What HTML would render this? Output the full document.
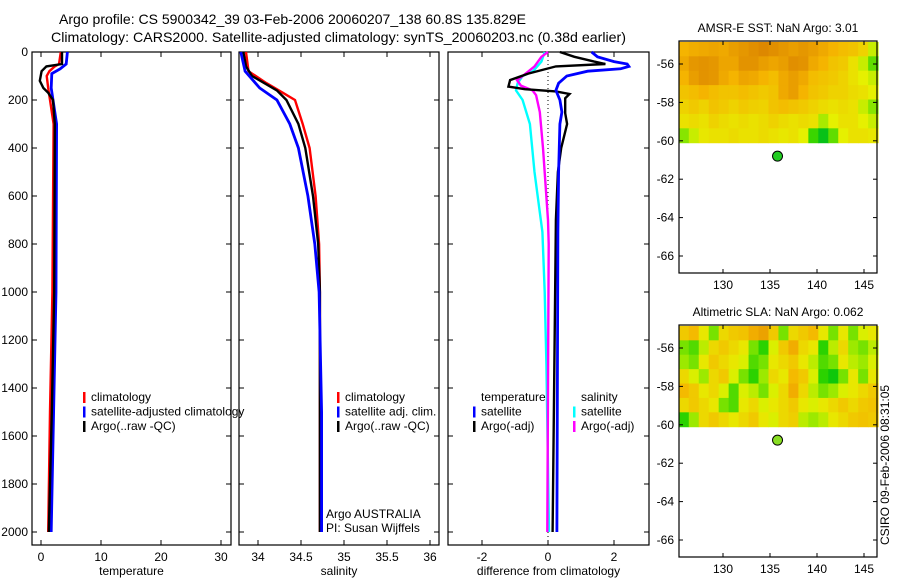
<!DOCTYPE html>
<html><head><meta charset="utf-8"><style>
body{margin:0;background:#fff;}
svg{display:block;font-family:"Liberation Sans",sans-serif;}
text{font-size:12px;fill:#000;}
</style></head><body>
<svg id="fig" width="900" height="580" viewBox="0 0 900 580" xmlns="http://www.w3.org/2000/svg">
<text x="59" y="24" textLength="467" lengthAdjust="spacingAndGlyphs" style="font-size:14px">Argo profile: CS 5900342_39 03-Feb-2006 20060207_138 60.8S 135.829E</text>
<text x="51" y="42" textLength="575" lengthAdjust="spacingAndGlyphs" style="font-size:14px">Climatology: CARS2000. Satellite-adjusted climatology: synTS_20060203.nc (0.38d earlier)</text>
<g id="g"></g>
</svg>
<script>
// ---- data ----
const tempDepth = [0,50,60,80,100,150,200,300,1000,1500,2000];
const tempClim  = [3.3,3.0,2.3,1.4,0.95,1.2,1.5,2.1,1.9,1.5,1.2];
const tempSatD  = [0,50,70,90,150,200,300,1000,1500,2000];
const tempSat   = [4.4,4.2,3.2,1.8,1.7,2.0,2.6,2.5,2.1,1.7];
const argoTD    = [0,50,60,80,120,150,170,200,300,1000,1500,2000];
const argoT     = [3.5,3.5,0.9,0.1,-0.2,0.4,1.2,2.0,2.3,2.2,1.8,1.3];
const salDepth  = [0,80,130,170,200,300,400,600,800,1000,2000];
const salClim   = [33.86,33.89,34.10,34.29,34.43,34.52,34.60,34.67,34.71,34.72,34.72];
const argoSD    = [0,60,100,160,200,300,400,600,800,1000,2000];
const argoS     = [33.83,33.86,33.93,34.22,34.33,34.47,34.55,34.64,34.70,34.72,34.72];
const salSatD   = [0,80,150,200,300,400,600,800,1000,1500,2000];
const salSat    = [33.80,33.85,34.02,34.22,34.37,34.47,34.58,34.66,34.71,34.74,34.74];
const dTSatD = [0,20,40,50,60,70,80,100,130,160,200,250,300,500,750,2000];
const dTSat  = [1.32,1.5,2.0,2.4,2.45,2.2,1.2,0.57,0.32,0.24,0.36,0.42,0.36,0.32,0.3,0.27];
const dTArgoD = [0,20,40,50,60,90,117,144,155,164,175,193,255,300,400,500,700,2000];
const dTArgo  = [0.36,0.8,1.4,1.74,0.24,-0.6,-1.15,-1.2,-0.7,0.24,0.65,0.52,0.52,0.58,0.4,0.3,0.24,0.14];
const dSArgoD = [0,20,60,100,117,140,160,180,250,400,700,800,2000];
const dSArgo  = [0,-0.2,-0.41,-0.77,-0.94,-0.82,-0.47,-0.36,-0.25,-0.15,0,0.02,-0.02];
const dSSatD = [0,40,80,100,130,160,200,300,500,750,1000,1300,2000];
const dSSat  = [-0.1,-0.2,-0.45,-0.77,-0.92,-0.97,-0.77,-0.55,-0.41,-0.17,-0.1,-0.05,0.03];
const depthTicks = [0,200,400,600,800,1000,1200,1400,1600,1800,2000];
const tempTicks = [0,10,20,30];
const salTicks = [34,34.5,35,35.5,36];
const diffTicks = [-2,0,2];
const lonTicks = [130,135,140,145];
const latTicks = [-56,-58,-60,-62,-64,-66];
const sstGrid = [
[0.75,0.78,0.8,0.82,0.8,0.85,0.88,0.92,0.95,0.92,0.88,0.85,0.88,0.85,0.8,0.75,0.72,0.7,0.65,0.5],
[0.8,0.88,0.9,0.88,0.82,0.82,0.9,0.9,0.85,0.82,0.85,0.92,0.9,0.8,0.75,0.7,0.68,0.6,0.5,0.35],
[0.75,0.85,0.9,0.88,0.8,0.75,0.82,0.8,0.75,0.72,0.8,0.85,0.8,0.72,0.7,0.68,0.65,0.6,0.55,0.5],
[0.7,0.72,0.75,0.72,0.7,0.7,0.72,0.7,0.68,0.7,0.8,0.85,0.75,0.7,0.68,0.65,0.65,0.62,0.6,0.55],
[0.65,0.68,0.65,0.7,0.68,0.65,0.68,0.66,0.65,0.7,0.72,0.7,0.68,0.65,0.62,0.6,0.62,0.6,0.5,0.4],
[0.6,0.62,0.6,0.65,0.62,0.6,0.62,0.6,0.62,0.65,0.62,0.6,0.62,0.6,0.45,0.55,0.6,0.6,0.55,0.5],
[0.4,0.5,0.58,0.6,0.6,0.62,0.6,0.6,0.62,0.6,0.58,0.6,0.55,0.3,0.1,0.35,0.55,0.6,0.6,0.58]];
const slaGrid = [
[0.6,0.65,0.5,0.3,0.55,0.6,0.62,0.7,0.75,0.6,0.3,0.55,0.6,0.65,0.5,0.3,0.5,0.3,0.45,0.5],
[0.3,0.25,0.4,0.55,0.6,0.55,0.5,0.3,0.2,0.45,0.6,0.7,0.55,0.5,0.2,0.4,0.55,0.35,0.3,0.4],
[0.35,0.3,0.5,0.6,0.55,0.5,0.45,0.25,0.3,0.5,0.55,0.6,0.5,0.4,0.25,0.3,0.5,0.4,0.35,0.45],
[0.55,0.45,0.35,0.55,0.6,0.45,0.3,0.2,0.35,0.55,0.5,0.65,0.6,0.45,0.2,0.1,0.3,0.5,0.3,0.5],
[0.65,0.6,0.5,0.55,0.45,0.25,0.45,0.4,0.3,0.45,0.55,0.7,0.55,0.4,0.3,0.35,0.45,0.5,0.55,0.6],
[0.55,0.6,0.55,0.5,0.3,0.25,0.5,0.55,0.45,0.5,0.55,0.6,0.5,0.45,0.5,0.55,0.6,0.55,0.6,0.62],
[0.2,0.35,0.55,0.6,0.55,0.5,0.55,0.6,0.5,0.45,0.55,0.58,0.4,0.35,0.4,0.5,0.55,0.6,0.62,0.6]];
const argoLon = [135.8];
const argoLat = [-60.8];

// ---- drawing ----
const NS='http://www.w3.org/2000/svg';
const G=document.getElementById('g');
function mk(tag,attrs,parent){const e=document.createElementNS(NS,tag);for(const k in attrs)e.setAttribute(k,attrs[k]);(parent||G).appendChild(e);return e;}
function txt(s,x,y,anchor,parent){const t=mk('text',{x:x,y:y,'text-anchor':anchor||'start'},parent);t.textContent=s;return t;}
const yTop=52, yBot=545;
const yD=d=>yTop+d*0.24;

function panel(name,x0,x1,xf,xticks,xlabel,showY){
  const r=mk('rect',{x:x0,y:yTop,width:x1-x0,height:yBot-yTop,fill:'none',stroke:'#000','stroke-width':1.2});
  
  
  xticks.forEach(v=>{const x=xf(v);
    mk('line',{x1:x,x2:x,y1:yBot,y2:yBot-5,stroke:'#000'});
    mk('line',{x1:x,x2:x,y1:yTop,y2:yTop+5,stroke:'#000'});
    const t=txt(String(v),x,561,'middle');
    
    
  });
  depthTicks.forEach(d=>{const y=yD(d);
    mk('line',{x1:x0,x2:x0+5,y1:y,y2:y,stroke:'#000'});
    mk('line',{x1:x1,x2:x1-5,y1:y,y2:y,stroke:'#000'});
    if(showY){const t=txt(String(d),28,y+4,'end');
      
      }
  });
  const l=txt(xlabel,(x0+x1)/2,575,'middle');
  
  
}
function line(name,ds,vs,xf,color,w){
  const p=mk('polyline',{points:ds.map((d,i)=>xf(vs[i]).toFixed(1)+','+yD(d).toFixed(1)).join(' '),fill:'none',stroke:color,'stroke-width':w||2.4});
  
  
}
function legend(items,x,y,name){
  items.forEach((it,i)=>{
    if(it[1]){const m=mk('rect',{x:x,y:y+i*14.5-9,width:2.5,height:11,fill:it[1]});
      
      }
    const t=txt(it[0],x+8,y+i*14.5);
    
    
  });
}
// Panel 1 temperature
const xT=v=>41+v*6;
panel('temperature-panel',32,231,xT,tempTicks,'temperature',true);
line('temp-climatology',tempDepth,tempClim,xT,'#f00');
line('temp-satellite-adjusted',tempSatD,tempSat,xT,'#00f',2.8);
line('temp-argo',argoTD,argoT,xT,'#000');
legend([['climatology','#f00'],['satellite-adjusted climatology','#00f'],['Argo(..raw -QC)','#000']],83,401,'temp-legend');
// Panel 2 salinity
const xS=v=>258+(v-34)*86;
panel('salinity-panel',239,439,xS,salTicks,'salinity',false);
line('sal-climatology',salDepth,salClim,xS,'#f00');
line('sal-argo',argoSD,argoS,xS,'#000');
line('sal-satellite-adjusted',salSatD,salSat,xS,'#00f',2.8);
legend([['climatology','#f00'],['satellite adj. clim.','#00f'],['Argo(..raw -QC)','#000']],337,401,'sal-legend');
const a1=txt('Argo AUSTRALIA',326,518);
const a2=txt('PI: Susan Wijffels',326,532);
// Panel 3 differences
const xDf=v=>548+v*33;
panel('difference-panel',448,649,xDf,diffTicks,'difference from climatology',false);
const zl=mk('line',{x1:xDf(0),x2:xDf(0),y1:yTop,y2:yBot,stroke:'#000','stroke-dasharray':'1,3'});

line('diff-sal-satellite',dSSatD,dSSat,xDf,'#0ff');
line('diff-sal-argo',dSArgoD,dSArgo,xDf,'#f0f');
line('diff-temp-argo',dTArgoD,dTArgo,xDf,'#000');
line('diff-temp-satellite',dTSatD,dTSat,xDf,'#00f',2.8);
legend([['temperature',null],['satellite','#00f'],['Argo(-adj)','#000']],473,401,'diff-temp-legend');
legend([['salinity',null],['satellite','#0ff'],['Argo(-adj)','#f0f']],573,401,'diff-sal-legend');

// Maps
function cmap(v){
  v=Math.max(0,Math.min(1,v));
  const stops=[[0,[0,185,40]],[0.25,[20,205,0]],[0.42,[150,232,0]],[0.55,[230,240,0]],[0.75,[245,180,0]],[1,[215,125,0]]];
  for(let i=1;i<stops.length;i++){if(v<=stops[i][0]){const a=stops[i-1],b=stops[i],t=(v-a[0])/(b[0]-a[0]);
    return 'rgb('+a[1].map((c,j)=>Math.round(c+(b[1][j]-c)*t)).join(',')+')';}}
  return 'rgb(215,125,0)';
}
function map(name,top,grid,title,dotColor,shift){
  const x0=679,x1=877,h=232;
  const lonf=v=>723+(v-130)*9.4, latf=v=>top+23+(-56-v)*19.2;
  const lonMin=125.3,lonMax=146.5,latMax=-54.85,latMin=-60.1;
  const rows=grid.length, cols=grid[0].length;
  const dLon=(lonMax-lonMin)/cols, dLat=(latMax-latMin)/rows;
  grid.forEach((row,ri)=>row.forEach((v,ci)=>{
    const xa=lonf(lonMin+ci*dLon), xb=lonf(lonMin+(ci+1)*dLon);
    const ya=latf(latMax-ri*dLat), yb=latf(latMax-(ri+1)*dLat);
    const c=mk('rect',{x:xa,y:ya,width:xb-xa+0.5,height:yb-ya+0.5,fill:cmap(v+shift)});
    
    
  }));
  const f=mk('rect',{x:x0,y:top,width:x1-x0,height:h,fill:'none',stroke:'#000','stroke-width':1.2});
  
  lonTicks.forEach(v=>{const x=lonf(v);
    mk('line',{x1:x,x2:x,y1:top,y2:top+4,stroke:'#000'});mk('line',{x1:x,x2:x,y1:top+h,y2:top+h-4,stroke:'#000'});
    const t=txt(String(v),x,top+h+16,'middle');});
  latTicks.forEach(v=>{const y=latf(v);
    mk('line',{x1:x0,x2:x0+4,y1:y,y2:y,stroke:'#000'});mk('line',{x1:x1,x2:x1-4,y1:y,y2:y,stroke:'#000'});
    const t=txt(String(v),674,y+4,'end');});
  const tt=txt(title,778,top-9,'middle');
  argoLon.forEach((lo,i)=>{const d=mk('circle',{cx:lonf(lo),cy:latf(argoLat[i]),r:5,fill:dotColor,stroke:'#000','stroke-width':1});
    });
}
map('sst-map',41,sstGrid,'AMSR-E SST: NaN Argo: 3.01','#22cc22',0);
map('sla-map',325,slaGrid,'Altimetric SLA: NaN Argo: 0.062','#88dd22',0.08);
const cs=txt('CSIRO 09-Feb-2006 08:31:05',0,0,'middle');
cs.setAttribute('transform','translate(889,465) rotate(-90)');


</script>
</body></html>
